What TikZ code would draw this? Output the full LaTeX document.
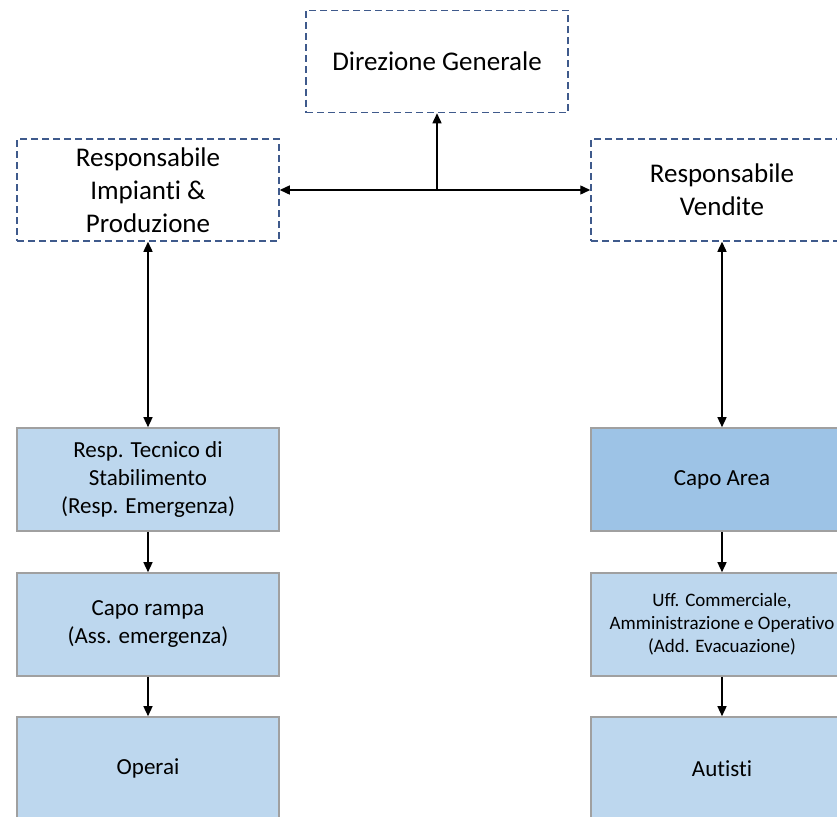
\documentclass[tikz,border=0pt]{standalone}
\usepackage{fontspec}
\setmainfont{Carlito}[Ligatures=NoCommon]
\usetikzlibrary{arrows.meta}
\definecolor{dashblue}{HTML}{3F5A8C}
\definecolor{boxlight}{HTML}{BDD7EE}
\definecolor{boxdark}{HTML}{9DC3E6}
\definecolor{boxline}{HTML}{A0A0A0}

\begin{document}
\begin{tikzpicture}[x=1pt,y=-1pt,line width=1.4pt,
  >={Triangle[width=9pt,length=10pt]}]
  \tikzstyle{resp}=[draw=dashblue,dash pattern=on 7pt off 4pt,line width=1.5pt,
    minimum width=262pt,minimum height=102pt,align=center,
    font=\fontsize{27}{33}\selectfont]
  \tikzstyle{unit}=[draw=boxline,fill=boxlight,line width=1.6pt,
    minimum width=262pt,minimum height=103pt,align=center,
    font=\fontsize{23}{28}\selectfont]
  \useasboundingbox (0,0) rectangle (837,816);
  \clip (0,0) rectangle (837,816);
  \node[resp] (DG)  at (437,61.5) {Direzione Generale};
  \node[resp] (RIP) at (148,190)  {Responsabile\\Impianti \&\\Produzione};
  \node[resp] (RV)  at (722,190)  {Responsabile\\Vendite};
  \node[unit] (RTS) at (148,479.5) {Resp. Tecnico di\\Stabilimento\\(Resp. Emergenza)};
  \node[unit] (CR)  at (148,624.5) {Capo rampa\\(Ass. emergenza)};
  \node[unit] (OP)  at (148,768.5) {Operai};
  \node[unit,fill=boxdark] (CA) at (722,479.5) {Capo Area};
  \node[unit,font=\fontsize{19}{23}\selectfont] (UC) at (722,624.5)
    {Uff. Commerciale,\\Amministrazione e Operativo\\(Add. Evacuazione)};
  \node[unit] (AU)  at (722,768.5) {Autisti};
  \coordinate (J) at (DG.south |- RIP.east);
  \draw[<->] (RIP.east) -- (RV.west);
  \draw[->] (J) -- (DG.south);
  \draw[<->] (RIP.south) -- (RTS.north);
  \draw[<->] (RV.south) -- (CA.north);
  \draw[->] (RTS) -- (CR);
  \draw[->] (CR) -- (OP);
  \draw[->] (CA) -- (UC);
  \draw[->] (UC) -- (AU);
\end{tikzpicture}
\end{document}
